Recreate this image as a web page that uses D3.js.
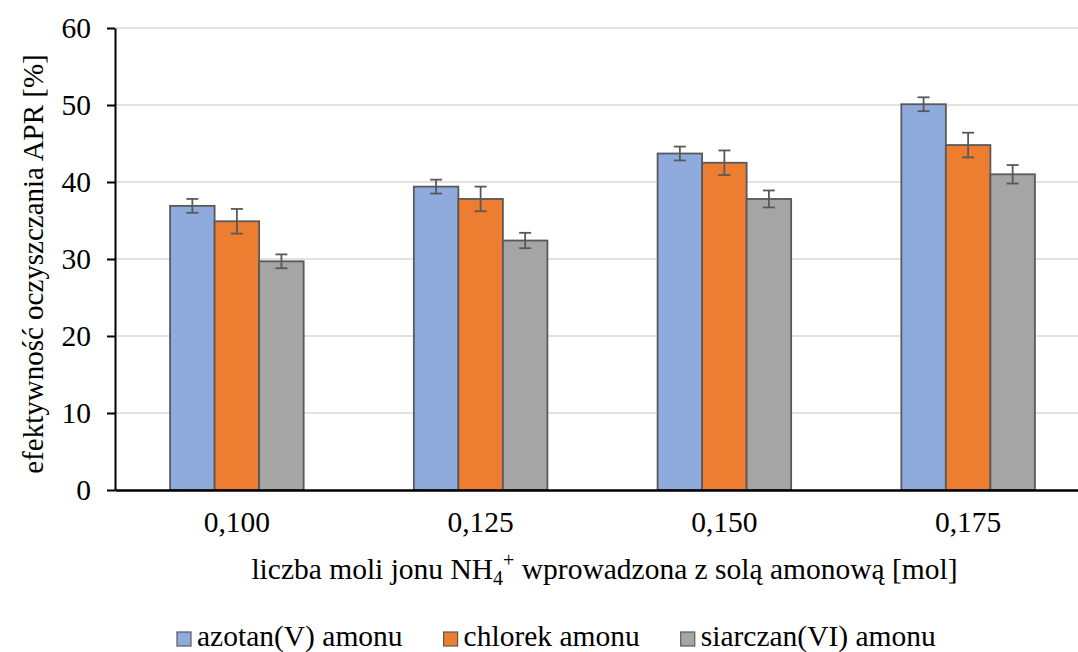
<!DOCTYPE html>
<html>
<head>
<meta charset="utf-8">
<script src="https://cdn.jsdelivr.net/npm/d3@7/dist/d3.min.js"></script>
<style>
  html, body { margin: 0; padding: 0; background: #fff; }
  svg text { font-family: "Liberation Serif", "Times New Roman", Tinos, "DejaVu Serif", "Noto Serif", serif; fill: #000; }
</style>
</head>
<body>
<svg id="chart" width="1078" height="652"></svg>
<script>
// Moles of NH4+ introduced with the ammonium salt
const categories = ["0,100", "0,125", "0,150", "0,175"];
const seriesNames = ["azotan(V) amonu", "chlorek amonu", "siarczan(VI) amonu"];
const seriesColors = ["#8FAADC", "#ED7D31", "#A5A5A5"];

// APR cleaning efficiency [%] per salt
const azotanValues   = [36.9, 39.4, 43.7, 50.1];
const chlorekValues  = [34.9, 37.8, 42.5, 44.8];
const siarczanValues = [29.7, 32.4, 37.8, 41.0];

// Standard deviations (error bar half-lengths)
const azotanErrors   = [0.9, 0.9, 0.9, 0.9];
const chlorekErrors  = [1.6, 1.6, 1.6, 1.6];
const siarczanErrors = [0.9, 1.0, 1.1, 1.2];

const yTicks = [0, 10, 20, 30, 40, 50, 60];

const values = [azotanValues, chlorekValues, siarczanValues];
const errors = [azotanErrors, chlorekErrors, siarczanErrors];

const serifStack = '"Liberation Serif", "Times New Roman", Tinos, "DejaVu Serif", "Noto Serif", serif';
const fs = 29.5;

const svg = d3.select("#chart");
const plotLeft = 115, plotRight = 1090, plotTop = 28, plotBottom = 490;

const x0 = d3.scaleBand().domain(categories).range([plotLeft, plotRight])
  .paddingInner(0.452).paddingOuter(0.226);
const x1 = d3.scaleBand().domain(seriesNames).range([0, x0.bandwidth()]);
const y = d3.scaleLinear().domain([0, 60]).range([plotBottom, plotTop]);

// Horizontal gridlines
svg.append("g").selectAll("line").data(yTicks.filter(t => t > 0)).join("line")
  .attr("x1", plotLeft).attr("x2", plotRight)
  .attr("y1", d => y(d)).attr("y2", d => y(d))
  .attr("stroke", "#D9D9D9").attr("stroke-width", 1.5);

// Bars
const rows = [];
categories.forEach((c, i) => seriesNames.forEach((s, j) => {
  rows.push({ cat: c, series: s, idx: j, value: values[j][i], err: errors[j][i] });
}));

const bars = svg.append("g");
bars.selectAll("rect").data(rows).join("rect")
  .attr("x", d => x0(d.cat) + x1(d.series))
  .attr("y", d => y(d.value))
  .attr("width", x1.bandwidth())
  .attr("height", d => y(0) - y(d.value))
  .attr("fill", d => seriesColors[d.idx])
  .attr("stroke", "#595959").attr("stroke-width", 1.8);

// Error bars
const errG = svg.append("g").attr("stroke", "#595959").attr("stroke-width", 1.8);
const cap = 6;
rows.forEach(d => {
  const cx = x0(d.cat) + x1(d.series) + x1.bandwidth() / 2;
  const yt = y(d.value + d.err), yb = y(d.value - d.err);
  errG.append("line").attr("x1", cx).attr("x2", cx).attr("y1", yt).attr("y2", yb);
  errG.append("line").attr("x1", cx - cap).attr("x2", cx + cap).attr("y1", yt).attr("y2", yt);
  errG.append("line").attr("x1", cx - cap).attr("x2", cx + cap).attr("y1", yb).attr("y2", yb);
});

// Y axis
const yAxis = d3.axisLeft(y).tickValues(yTicks).tickSize(8).tickPadding(16).tickSizeOuter(0);
const yg = svg.append("g").attr("transform", `translate(${plotLeft},0)`).call(yAxis)
  .attr("font-family", serifStack).attr("font-size", fs);
yg.select(".domain").attr("stroke", "#000").attr("stroke-width", 2);
yg.selectAll(".tick line").attr("stroke", "#000").attr("stroke-width", 2);
yg.selectAll(".tick text").attr("fill", "#000");

// X axis
const xAxis = d3.axisBottom(x0).tickSize(0).tickPadding(21).tickSizeOuter(0);
const xg = svg.append("g").attr("transform", `translate(0,${plotBottom})`).call(xAxis)
  .attr("font-family", serifStack).attr("font-size", fs);
xg.select(".domain").attr("stroke", "#000").attr("stroke-width", 2.5);
xg.selectAll(".tick text").attr("fill", "#000");

// Axis titles
svg.append("text")
  .attr("transform", `translate(43,${(plotTop + plotBottom) / 2 + 5}) rotate(-90)`)
  .attr("text-anchor", "middle").attr("font-size", 29)
  .text("efektywność oczyszczania APR [%]");

const xt = svg.append("text")
  .attr("x", (plotLeft + plotRight) / 2 + 2).attr("y", 579)
  .attr("text-anchor", "middle").attr("font-size", fs);
xt.append("tspan").text("liczba moli jonu NH");
xt.append("tspan").attr("font-size", 20).attr("dy", 6).text("4");
xt.append("tspan").attr("font-size", 20).attr("dy", -18).text("+");
xt.append("tspan").attr("dy", 12).text(" wprowadzona z solą amonową [mol]");

// Legend
const legend = svg.append("g");
let lx = 177;
seriesNames.forEach((name, i) => {
  legend.append("rect").attr("x", lx).attr("y", 632).attr("width", 14).attr("height", 14)
    .attr("fill", seriesColors[i]).attr("stroke", "#595959").attr("stroke-width", 1.2);
  const t = legend.append("text").attr("x", lx + 20).attr("y", 646)
    .attr("font-size", fs).text(name);
  lx += 20 + t.node().getComputedTextLength() + 41;
});
</script>
</body>
</html>
